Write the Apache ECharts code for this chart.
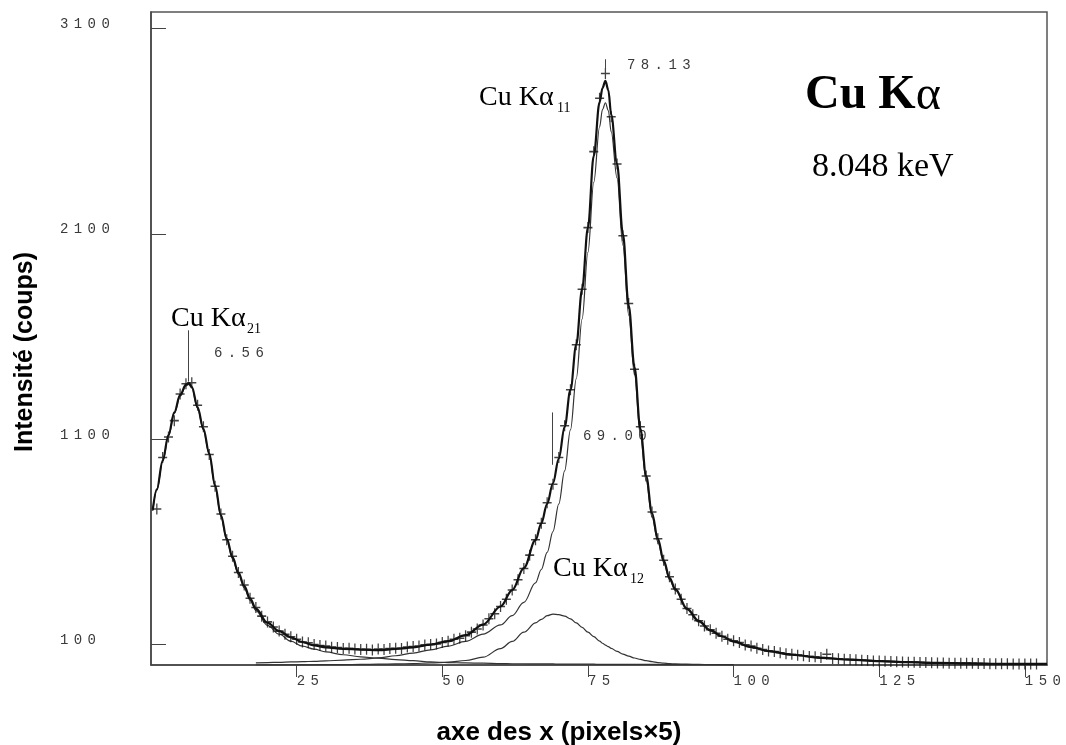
<!DOCTYPE html>
<html><head><meta charset="utf-8">
<script src="https://cdn.jsdelivr.net/npm/echarts@6/dist/echarts.min.js"></script>
<style>html,body{margin:0;padding:0;background:#fff}#c{width:1066px;height:745px}</style>
</head><body><div id="c"></div>
<script>
// x sample positions (pixels x5) for the fitted curves
const xGrid = [0.3,1,2,3,4,5,6,6.5,7,8,9,10,11,12,13,14,15,16,17,18,20,22,24,26,28,30,33,36,39,42,45,48,51,54,57,60,62,64,66,67,68,69,70,71,72,73,74,75,76,77,77.5,78,78.5,79,80,81,82,83,84,85,86,87,88,89,90,92,94,96,98,100,103,106,110,115,120,125,130,135,140,145,150,153.8];
// total fit
const fitTotal = [755,855,995,1120,1230,1315,1365,1373,1355,1255,1150,1030,875,730,615,525,450,385,325,275,205,165,135,112,96,86,79,75,72,78,86,99,116,145,197,285,365,472,608,690,785,885,1005,1160,1340,1560,1830,2130,2480,2740,2810,2845,2800,2680,2440,2100,1750,1450,1150,920,740,615,510,425,370,275,215,170,140,115,88,68,50,35,26,19,14,10,8,6,5,5];
// Cu Ka21 component
const ka21 = [750,850,990,1114,1224,1309,1359,1367,1349,1249,1144,1023,868,723,608,517,442,376,316,265,193,150,116,92,77,64,50,40,33,26,21,15,12,10,9,7,6,6,5,5,5,5,4,4,4,4,4,4,4,3,3,3,3,3,3,3,3,3,3,3,3,3,2,2,2,2,2,2,2,2,null,null,null,null,null,null,null,null,null,null,null,null];
// Cu Ka11 component
const ka11 = [null,null,null,null,null,null,null,null,null,null,null,null,null,null,null,null,null,null,null,10,12,13,15,16,18,20,24,28,35,45,58,74,92,115,150,195,240,305,400,465,548,650,785,945,1145,1395,1685,2010,2350,2620,2705,2738,2700,2596,2371,2044,1704,1413,1120,896,721,600,499,416,363,269,210,166,138,113,87,68,50,35,26,19,14,10,8,6,5,5];
// Cu Ka12 component
const ka12 = [null,null,null,null,null,null,null,null,null,null,null,null,null,null,null,null,null,null,null,0,1,1,1,1,1,2,2,3,4,5,7,10,14,22,38,80,115,160,205,222,240,248,245,238,225,205,183,160,138,116,106,97,89,81,66,53,43,34,27,21,16,12,9,7,5,4,3,2,1,1,null,null,null,null,null,null,null,null,null,null,null,null];
// measured points (+)
const dataX = [1,2,3,4,5,6,7,8,9,10,11,12,13,14,15,16,17,18,19,20,21,22,23,24,25,26,27,28,29,30,31,32,33,34,35,36,37,38,39,40,41,42,43,44,45,46,47,48,49,50,51,52,53,54,55,56,57,58,59,60,61,62,63,64,65,66,67,68,69,70,71,72,73,74,75,76,77,78,79,80,81,82,83,84,85,86,87,88,89,90,91,92,93,94,95,96,97,98,99,100,101,102,103,104,105,106,107,108,109,110,111,112,113,114,115,116,117,118,119,120,121,122,123,124,125,126,127,128,129,130,131,132,133,134,135,136,137,138,139,140,141,142,143,144,145,146,147,148,149,150,151,152];
const dataY = [760,1010,1110,1190,1320,1370,1375,1265,1160,1025,870,735,610,530,450,390,325,280,238,210,185,165,150,138,125,112,108,100,95,92,87,85,80,82,78,75,77,73,78,76,80,82,80,88,90,92,98,100,102,110,116,125,130,142,160,175,195,225,250,285,320,365,415,470,535,610,690,790,880,1010,1165,1340,1560,1830,2130,2500,2760,2880,2670,2440,2090,1760,1440,1160,920,745,615,510,430,370,320,275,245,215,190,172,155,140,125,118,110,98,92,82,75,68,66,60,55,52,48,45,42,40,36,52,32,30,28,27,25,23,22,20,19,18,17,16,15,14,13,12,12,11,10,10,9,9,8,8,8,7,7,6,6,6,6,5,5,5,5,5];
// axis ticks
const xTicks = [25,50,75,100,125,150];
const yTicks = [100,1100,2100,3100];
// peak marker lines: [x, yFrom, yTo] and peak position labels
const peakLines = [[6.4,1380,1630],[68.8,975,1230],[77.9,2880,2950]];
const peakLabels = ['78.13','6.56','69.00'];

function pairs(xs, ys){ const o=[]; for(let i=0;i<xs.length;i++){ if(ys[i]!=null) o.push([xs[i], ys[i]]); } return o; }
// monospace digits with extra letter spacing (via rich text spacer tokens)
function spaced(v){ return String(v).split('').map(c => '{d|' + c + '}').join('{s| }'); }
const mono = 'Liberation Mono';
const monoRich = {d:{fontFamily:mono, fontSize:14, color:'#3a3a3a', fill:'#3a3a3a'}, s:{width:5.4, fontFamily:mono, fontSize:14}};

const chart = echarts.init(document.getElementById('c'), null, {renderer:'canvas'});
const serif = '"Liberation Serif", "Times New Roman", serif';
const sans = '"Liberation Sans", Arial, sans-serif';
const lineBase = {type:'line', showSymbol:false, smooth:0.35, smoothMonotone:'x', silent:true};
const option = {
  animation:false,
  backgroundColor:'#fff',
  grid:{left:151, right:19, top:12, bottom:80, show:true, borderColor:'#555', borderWidth:1.5, outerBoundsMode:'none'},
  xAxis:{type:'value', min:0, max:153.8,
    axisLine:{show:true, onZero:false, lineStyle:{color:'#444', width:1.5}},
    splitLine:{show:false},
    axisTick:{show:true, inside:false, length:12, customValues:xTicks, lineStyle:{color:'#444', width:1}},
    axisLabel:{show:true, customValues:xTicks, formatter:spaced, rich:monoRich, align:'left', margin:9}},
  yAxis:{type:'value', min:0, max:3180,
    axisLine:{show:true, lineStyle:{color:'#444', width:1.5}},
    splitLine:{show:false},
    axisTick:{show:true, inside:true, length:15, customValues:yTicks, lineStyle:{color:'#444', width:1}},
    axisLabel:{show:true, customValues:yTicks, formatter:spaced, rich:monoRich, align:'left', margin:91, padding:[0,0,8,0]}},
  series:[
    Object.assign({}, lineBase, {name:'Ka21', data:pairs(xGrid, ka21), lineStyle:{color:'#333', width:1.2}, z:2}),
    Object.assign({}, lineBase, {name:'Ka12', data:pairs(xGrid, ka12), lineStyle:{color:'#333', width:1.2}, z:2}),
    Object.assign({}, lineBase, {name:'Ka11', data:pairs(xGrid, ka11), lineStyle:{color:'#333', width:1.2}, z:2}),
    Object.assign({}, lineBase, {name:'total', data:pairs(xGrid, fitTotal), lineStyle:{color:'#111', width:2.2}, z:3,
      markLine:{silent:true, symbol:'none', label:{show:false}, lineStyle:{color:'#444', width:1, type:'solid'},
        data: peakLines.map(p => [{coord:[p[0], p[1]]}, {coord:[p[0], p[2]]}])}}),
    {type:'scatter', name:'data', data:pairs(dataX, dataY), silent:true, z:4,
      symbol:'path://M4.3,0H5.7V4.3H10V5.7H5.7V10H4.3V5.7H0V4.3H4.3Z', symbolSize:[9,11],
      itemStyle:{color:'#111'}}
  ],
  graphic:[
    {type:'text', x:25, y:352, rotation:Math.PI/2, style:{text:'Intensité (coups)', font:'bold 25px '+sans, fill:'#000', textAlign:'center', textVerticalAlign:'middle'}},
    {type:'text', x:559, y:733, style:{text:'axe des x (pixels×5)', font:'bold 26px '+sans, fill:'#000', textAlign:'center', textVerticalAlign:'middle'}},
    {type:'text', x:805, y:96, style:{text:'{b|Cu K}{a|α}', textVerticalAlign:'middle', rich:{b:{fontFamily:serif, fontWeight:'bold', fontSize:48, fill:'#000'}, a:{fontFamily:serif, fontWeight:'normal', fontSize:48, fill:'#000'}}}},
    {type:'text', x:812, y:167, style:{text:'8.048 keV', font:'34px '+serif, fill:'#000', textVerticalAlign:'middle'}},
    {type:'text', x:479, y:98, style:{text:'Cu Kα', font:'28px '+serif, fill:'#000', textVerticalAlign:'middle'}},
    {type:'text', x:557, y:108, style:{text:'11', font:'14px '+serif, fill:'#000', textVerticalAlign:'middle'}},
    {type:'text', x:171, y:319, style:{text:'Cu Kα', font:'28px '+serif, fill:'#000', textVerticalAlign:'middle'}},
    {type:'text', x:247, y:329, style:{text:'21', font:'14px '+serif, fill:'#000', textVerticalAlign:'middle'}},
    {type:'text', x:553, y:569, style:{text:'Cu Kα', font:'28px '+serif, fill:'#000', textVerticalAlign:'middle'}},
    {type:'text', x:630, y:579, style:{text:'12', font:'14px '+serif, fill:'#000', textVerticalAlign:'middle'}},
    {type:'text', x:627, y:65, style:{text:spaced(peakLabels[0]), rich:monoRich, textVerticalAlign:'middle'}},
    {type:'text', x:214, y:353, style:{text:spaced(peakLabels[1]), rich:monoRich, textVerticalAlign:'middle'}},
    {type:'text', x:583, y:436, style:{text:spaced(peakLabels[2]), rich:monoRich, textVerticalAlign:'middle'}}
  ]
};
chart.setOption(option);
</script>
</body></html>
